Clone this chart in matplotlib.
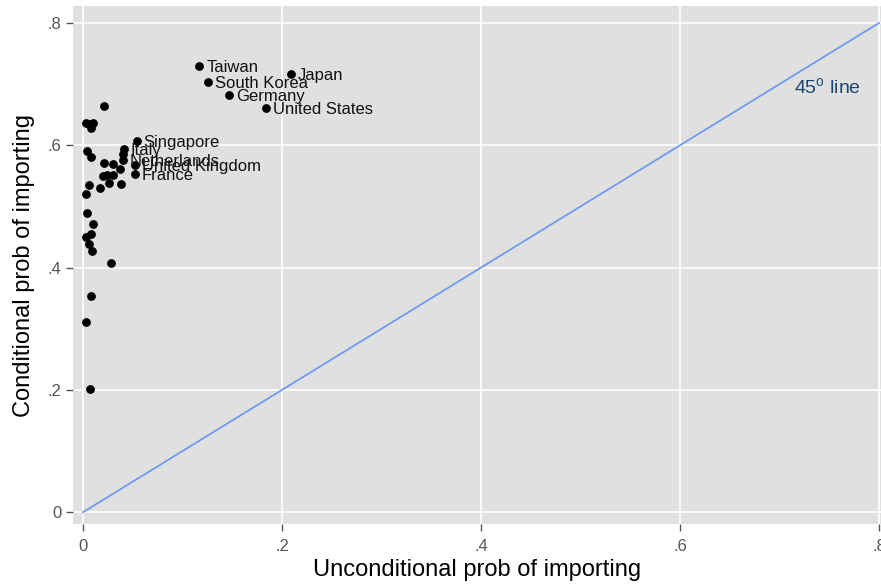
import matplotlib.pyplot as plt
import numpy as np

plt.rcParams['font.family'] = ['Liberation Sans', 'DejaVu Sans']

# labelled countries
names = ['Taiwan', 'South Korea', 'Germany', 'Japan', 'United States',
         'Singapore', 'Italy', 'Netherlands', 'United Kingdom', 'France']
lab_x = [0.117, 0.126, 0.147, 0.209, 0.184, 0.054, 0.041, 0.040, 0.052, 0.052]
lab_y = [0.730, 0.703, 0.682, 0.716, 0.661, 0.607, 0.594, 0.576, 0.568, 0.553]

# unlabelled countries
oth_x = [0.021, 0.003, 0.007, 0.010, 0.008, 0.004, 0.008, 0.040, 0.021, 0.030,
         0.037, 0.020, 0.024, 0.030, 0.006, 0.017, 0.026, 0.038, 0.003, 0.004,
         0.010, 0.008, 0.003, 0.006, 0.009, 0.028, 0.008, 0.003, 0.007]
oth_y = [0.664, 0.636, 0.634, 0.636, 0.629, 0.590, 0.581, 0.586, 0.571, 0.569,
         0.561, 0.550, 0.551, 0.551, 0.535, 0.530, 0.538, 0.537, 0.520, 0.489,
         0.471, 0.455, 0.450, 0.438, 0.427, 0.407, 0.353, 0.311, 0.201]

ticks = [0, 0.2, 0.4, 0.6, 0.8]
tick_labels = ['0', '.2', '.4', '.6', '.8']

fig = plt.figure(figsize=(8.81, 5.85), dpi=100)
ax = fig.add_axes([0.083, 0.104, 0.917, 0.886])
ax.set_facecolor('#e0e0e0')

ax.grid(True, color='white', linewidth=1.2)
ax.set_axisbelow(True)

# 45 degree line
ln = np.array([0, 0.8])
ax.plot(ln, ln, color='#6f9af0', linewidth=1.3)
ax.text(0.715, 0.695, '45$^{\\mathregular{o}}$ line', color='#1a476f', fontsize=14,
        va='center', ha='left')

ax.scatter(oth_x, oth_y, s=28, color='black', zorder=3)
ax.scatter(lab_x, lab_y, s=28, color='black', zorder=3)
for n, x, y in zip(names, lab_x, lab_y):
    ax.annotate(n, (x, y), xytext=(5, -1), textcoords='offset points',
                va='center', ha='left', fontsize=12, color='#111111')

ax.set_xlim(-0.010, 0.802)
ax.set_ylim(-0.0196, 0.828)
ax.set_xticks(ticks)
ax.set_xticklabels(tick_labels)
ax.set_yticks(ticks)
ax.set_yticklabels(tick_labels)
ax.tick_params(axis='both', colors='#555555', labelsize=12, length=5, width=1)
ax.tick_params(axis='x', pad=6)
for s in ax.spines.values():
    s.set_visible(False)

ax.set_xlabel('Unconditional prob of importing', fontsize=17, labelpad=3)
ax.set_ylabel('Conditional prob of importing', fontsize=17, labelpad=9)

fig.savefig('out.png', dpi=100)
